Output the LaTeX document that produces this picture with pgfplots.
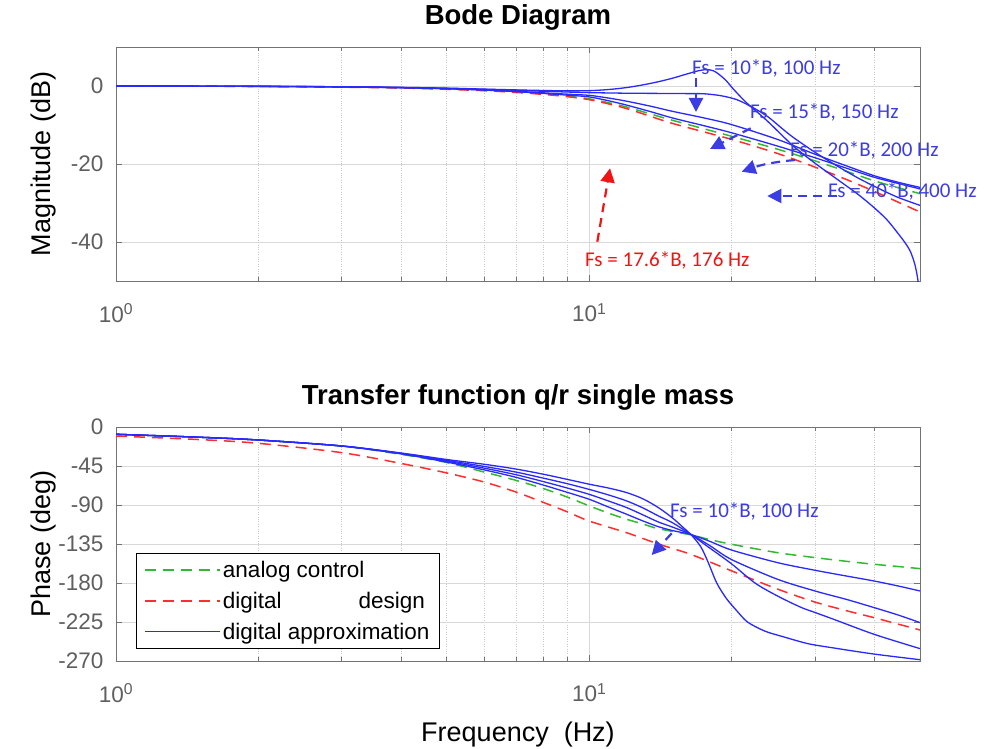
\documentclass[border=0pt]{standalone}
\usepackage{fontspec}
\setmainfont{Liberation Sans}
\newfontfamily\annfont{Carlito}
\usepackage{pgfplots}
\pgfplotsset{compat=1.18}
\usetikzlibrary{arrows.meta}
\definecolor{mgreen}{RGB}{50,185,50}
\definecolor{mred}{RGB}{255,45,45}
\definecolor{mblue}{RGB}{40,40,255}
\definecolor{annblue}{RGB}{60,60,228}
\definecolor{annred}{RGB}{240,20,20}
\definecolor{tickgray}{RGB}{95,95,95}
\definecolor{framegray}{RGB}{115,115,115}
\tikzset{
  gl/.style={color=mgreen, draw=mgreen, line width=1.5pt, dash pattern=on 11pt off 7pt, smooth},
  rl/.style={color=mred, draw=mred, line width=1.5pt, dash pattern=on 11pt off 7pt, smooth},
  bl/.style={color=mblue, draw=mblue, line width=1.3pt, solid, smooth},
  annarrow/.style={draw=annblue, line width=2.2pt, dash pattern=on 9pt off 6pt, -{Triangle[length=14pt,width=14pt]}},
}
\begin{document}
\begin{tikzpicture}[x=1pt,y=1pt]
\useasboundingbox (0,0) rectangle (990,748);
% ---------------- magnitude ----------------
\begin{axis}[at={(116pt,467pt)}, anchor=south west,
    scale only axis, width=804pt, height=234pt,
    xmode=log, xmin=1, xmax=50,
    axis line style={framegray, line width=0.9pt},
    tick style={framegray, line width=0.7pt},
    major tick length=6pt, minor tick length=4pt,
    tick align=inside,
    xtick={1,10}, xticklabels={10\textsuperscript{0},10\textsuperscript{1}},
    minor xtick={2,3,4,5,6,7,8,9,20,30,40},
    xmajorgrids, xminorgrids, ymajorgrids,
    major grid style={black!15, line width=0.7pt},
    minor grid style={black!22, dotted, line width=0.7pt},
    yticklabel pos=left, xticklabel pos=bottom,
    ticklabel style={font=\fontsize{22.5}{26}\selectfont, text=tickgray},
    xticklabel style={yshift=-19pt},
    yticklabel style={xshift=-9pt},
    every axis y label/.style={at={(axis description cs:-0.0896,0.5)}, anchor=center, rotate=90, font=\fontsize{27}{31}\selectfont},
    every axis title/.style={at={(axis description cs:0.5,1)}, anchor=center, yshift=30pt, font=\bfseries\fontsize{27.5}{31}\selectfont},
  ymin=-50, ymax=10, ytick={-40,-20,0}, yticklabels={-40,-20,0},
  ylabel={Magnitude (dB)}, title={Bode Diagram}]
\addplot[gl] coordinates {(1,0) (1.5,-0.05) (2,-0.1) (3,-0.25) (4,-0.45) (5,-0.75) (6,-1.1) (7,-1.5) (8,-2.0) (9,-2.6) (10,-3.3) (11,-4.3) (12,-5.4) (13.5,-7.2) (15,-8.8) (20,-12.9) (25,-16.2) (30,-19.2) (35,-21.9) (40,-24.3) (45,-26.1) (50,-27.6)};
\addplot[rl] coordinates {(1,0) (1.5,-0.05) (2,-0.1) (3,-0.3) (4,-0.5) (5,-0.85) (6,-1.2) (7,-1.65) (8,-2.15) (9,-2.75) (10,-3.5) (11,-4.6) (12,-5.8) (13.5,-7.8) (15,-9.6) (20,-13.7) (25,-17.3) (30,-20.8) (35,-24.0) (40,-27.0) (45,-29.8) (50,-32.3)};
\addplot[bl] coordinates {(1,0) (2,-0.08) (3,-0.2) (4,-0.35) (5,-0.55) (6,-0.8) (7,-1.0) (8,-1.15) (9,-1.25) (10,-1.2) (11,-0.9) (12,-0.4) (13,0.3) (14,1.1) (15,2.0) (16,3.0) (17,3.9) (17.7,4.2) (18.3,3.9) (18.8,3.0) (19.5,1.3) (20.1,-0.6) (21.5,-4.3) (23.8,-9.0) (27,-15.4) (30,-19.8) (33.4,-23.9) (37,-27.8) (40,-31.2) (42.5,-34.2) (44.6,-37.3) (46.5,-40.2) (47.7,-42.4) (48.7,-45.5) (49.3,-48.5) (49.8,-52)};
\addplot[bl] coordinates {(1,0) (2,-0.08) (3,-0.2) (4,-0.4) (5,-0.6) (6,-0.85) (7,-1.1) (8,-1.35) (9,-1.55) (10,-1.7) (12,-1.85) (14,-1.9) (16,-1.95) (17.5,-2.0) (19,-2.5) (20.5,-3.5) (22,-5.3) (23.8,-7.8) (25.5,-10.8) (27,-13.2) (30,-17.0) (33.4,-20.5) (37,-23.6) (41.1,-26.4) (45,-28.6) (50,-30.6)};
\addplot[bl] coordinates {(1,0) (2,-0.1) (3,-0.22) (4,-0.42) (5,-0.68) (6,-1.0) (7,-1.35) (8,-1.75) (9,-2.1) (10,-2.4) (11,-3.1) (12,-3.9) (13.5,-5.2) (15,-6.5) (17.5,-8.2) (20,-9.9) (25,-13.7) (30,-17.5) (35,-20.5) (40,-23.0) (45,-24.7) (50,-26.0)};
\addplot[bl] coordinates {(1,0) (2,-0.1) (3,-0.24) (4,-0.44) (5,-0.72) (6,-1.05) (7,-1.45) (8,-1.9) (9,-2.35) (10,-2.8) (11,-3.8) (12,-4.9) (13.5,-6.6) (15,-8.2) (17.5,-10.2) (20,-12.0) (25,-15.4) (30,-18.4) (35,-21.1) (40,-23.4) (45,-25.0) (50,-26.4)};
\end{axis}
% ---------------- phase ----------------
\begin{axis}[at={(116pt,87pt)}, anchor=south west,
    scale only axis, width=804pt, height=234pt,
    xmode=log, xmin=1, xmax=50,
    axis line style={framegray, line width=0.9pt},
    tick style={framegray, line width=0.7pt},
    major tick length=6pt, minor tick length=4pt,
    tick align=inside,
    xtick={1,10}, xticklabels={10\textsuperscript{0},10\textsuperscript{1}},
    minor xtick={2,3,4,5,6,7,8,9,20,30,40},
    xmajorgrids, xminorgrids, ymajorgrids,
    major grid style={black!15, line width=0.7pt},
    minor grid style={black!22, dotted, line width=0.7pt},
    yticklabel pos=left, xticklabel pos=bottom,
    ticklabel style={font=\fontsize{22.5}{26}\selectfont, text=tickgray},
    xticklabel style={yshift=-19pt},
    yticklabel style={xshift=-9pt},
    every axis y label/.style={at={(axis description cs:-0.0896,0.5)}, anchor=center, rotate=90, font=\fontsize{27}{31}\selectfont},
    every axis x label/.style={at={(axis description cs:0.5,0)}, anchor=center, yshift=-74pt, font=\fontsize{27}{31}\selectfont},
    every axis title/.style={at={(axis description cs:0.5,1)}, anchor=center, yshift=30pt, font=\bfseries\fontsize{27.5}{31}\selectfont},
  ymin=-270, ymax=0, ytick={-270,-225,-180,-135,-90,-45,0},
  yticklabels={-270,-225,-180,-135,-90,-45,0},
  ylabel={Phase (deg)}, xlabel={Frequency\ \ (Hz)},
  title={Transfer function q/r single mass},
  legend style={at={(axis description cs:0.0249,0.0513)}, anchor=south west,
    draw=black, line width=0.9pt, fill=white,
    font=\fontsize{22.5}{26}\selectfont, inner xsep=8pt, inner ysep=6pt,
    row sep=9pt, cells={anchor=west}},
  legend image code/.code={\draw[#1] (0pt,0pt) -- (75pt,0pt);}]
\addplot[gl] coordinates {(1,-8.4) (1.5,-11.8) (2,-15) (3,-22) (4,-31.5) (5,-41) (6,-52) (7,-61.5) (8,-71) (9,-81) (10,-91) (11,-99.5) (12,-106.5) (13,-112) (14,-117.3) (16.4,-124.5) (18,-130) (20,-135.3) (25,-145) (30,-150.7) (35,-155) (40,-158.4) (45,-161) (50,-163.4)};
\addlegendentry{analog control}
\addplot[rl] coordinates {(1,-10.4) (1.5,-14.5) (2,-18.8) (3,-29.6) (4,-42) (5,-53) (6,-63.5) (7,-75) (8,-87) (9,-98) (10,-108.5) (12,-122) (14,-135) (16.4,-147) (20,-166) (25,-187) (30,-202) (35,-212) (40,-220) (45,-227.5) (50,-234.2)};
\addlegendentry{\makebox[202pt][s]{digital design}}
\addplot[bl] coordinates {(1,-8.4) (1.5,-11.8) (2,-15) (3,-21.9) (4,-30) (5,-37.5) (6,-43) (7,-48.5) (8,-54.5) (9,-60.5) (10,-66) (11,-70.5) (12,-75.7) (13,-83) (14,-93) (15,-105) (15.8,-116) (16.4,-124) (17.2,-138) (17.8,-155) (18.6,-180) (19.5,-198) (20.5,-212) (21.6,-225) (23.5,-235.5) (25.7,-242) (29,-250) (32.9,-255) (40,-262) (50,-268.5)};
\addlegendentry{digital approximation}
\addplot[bl, forget plot] coordinates {(1,-8.4) (1.5,-11.8) (2,-15) (3,-21.9) (4,-30.3) (5,-38.5) (6,-45.5) (7,-52) (8,-59) (9,-65.5) (10,-72) (11,-78.5) (12,-85.3) (13,-93.5) (14,-102.6) (15,-110.5) (16.4,-124) (17.7,-137) (20,-158) (22.4,-180) (25,-195) (28,-208) (30,-214) (32.9,-222) (40,-239.2) (50,-255.7)};
\addplot[bl, forget plot] coordinates {(1,-8.4) (1.5,-11.8) (2,-15) (3,-21.9) (4,-30.6) (5,-39.5) (6,-47.5) (7,-55) (8,-63) (9,-70.5) (10,-77.7) (11,-85.5) (12,-93) (13,-101.5) (14,-109.6) (15,-115.5) (16.4,-124) (18,-137) (20,-153) (25,-175.7) (30,-189.2) (35,-199) (40,-208.4) (45,-217) (50,-225.7)};
\addplot[bl, forget plot] coordinates {(1,-8.4) (1.5,-11.8) (2,-15) (3,-22) (4,-31) (5,-40.5) (6,-49.5) (7,-58) (8,-67) (9,-75.5) (10,-83.4) (11,-92.5) (12,-100.7) (13,-108.5) (14,-115) (15,-119.5) (16.4,-124) (18,-132) (20,-142) (25,-156.5) (30,-165.3) (35,-172) (40,-177.7) (45,-183.5) (50,-189.2)};
\end{axis}
% ---------------- annotations ----------------
\begin{scope}[font=\annfont\fontsize{21}{25}\selectfont]
\node[anchor=west, text=annblue, inner sep=0pt] at (692,680) {Fs = 10*B, 100 Hz};
\draw[annarrow] (696,670) -- (696,636);
\node[anchor=west, text=annblue, inner sep=0pt] at (750,635.3) {Fs = 15*B, 150 Hz};
\draw[annarrow] (750.7,619.7) -- (710,599);
\node[anchor=west, text=annblue, inner sep=0pt] at (790,598) {Fs = 20*B, 200 Hz};
\draw[annarrow] (795,588) to[bend right=7] (741.7,576.3);
\node[anchor=west, text=annblue, inner sep=0pt] at (828,556.3) {Fs = 40*B, 400 Hz};
\draw[annarrow] (836.7,552) -- (767.3,552);
\node[anchor=west, text=annred, inner sep=0pt] at (585,488) {Fs = 17.6*B, 176 Hz};
\draw[annarrow, draw=annred] (597.3,506.3) -- (610,579.7);
\node[anchor=west, text=annblue, inner sep=0pt] at (670,236.3) {Fs = 10*B, 100 Hz};
\draw[annarrow] (671.7,214.7) -- (651.7,193);
\end{scope}
\end{tikzpicture}
\end{document}
